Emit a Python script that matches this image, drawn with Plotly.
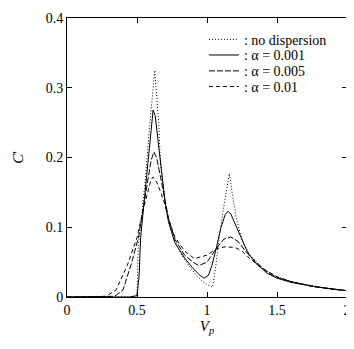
import plotly.graph_objects as go

# ---- data ----
vp_nodisp = [0, 0.3, 0.45, 0.50, 0.505, 0.51, 0.53, 0.56, 0.59, 0.61, 0.627, 0.64, 0.655, 0.667, 0.70, 0.725, 0.77,
             0.82, 0.87, 0.92, 0.97, 1.0, 1.04, 1.06, 1.09, 1.12, 1.16, 1.18, 1.21, 1.25, 1.30, 1.40, 1.50,
             1.60, 1.70, 1.80, 1.90, 2.0]
c_nodisp = [0, 0, 0, 0.002, 0.06, 0.075, 0.11, 0.17, 0.245, 0.295, 0.325, 0.29, 0.25, 0.195, 0.137, 0.108, 0.08,
            0.06, 0.045, 0.032, 0.022, 0.018, 0.014, 0.04, 0.09, 0.13, 0.177, 0.15, 0.112, 0.082, 0.062, 0.04, 0.029,
            0.022, 0.018, 0.014, 0.011, 0.009]

vp_a001 = [0, 0.3, 0.45, 0.50, 0.515, 0.526, 0.545, 0.561, 0.58, 0.60, 0.615, 0.63, 0.667, 0.70, 0.725, 0.77,
           0.84, 0.90, 0.95, 0.98, 1.01, 1.035, 1.065, 1.10, 1.13, 1.15, 1.17, 1.20, 1.25, 1.29, 1.35, 1.43,
           1.50, 1.60, 1.76, 1.90, 2.0]
c_a001 = [0, 0, 0, 0.002, 0.03, 0.085, 0.125, 0.161, 0.2, 0.245, 0.268, 0.26, 0.19, 0.137, 0.108, 0.078,
          0.056, 0.041, 0.031, 0.027, 0.031, 0.045, 0.069, 0.1, 0.118, 0.123, 0.119, 0.105, 0.08, 0.064, 0.048, 0.034,
          0.027, 0.021, 0.015, 0.011, 0.009]

vp_a005 = [0, 0.30, 0.34, 0.40, 0.46, 0.51, 0.56, 0.60, 0.62, 0.64, 0.67, 0.70, 0.725, 0.77, 0.84, 0.90,
           0.94, 1.0, 1.065, 1.12, 1.17, 1.22, 1.29, 1.35, 1.43, 1.50, 1.60, 1.76, 1.90, 2.0]
c_a005 = [0, 0, 0.001, 0.01, 0.048, 0.085, 0.15, 0.195, 0.208, 0.2, 0.17, 0.14, 0.113, 0.083, 0.06, 0.05,
          0.045, 0.05, 0.069, 0.083, 0.086, 0.08, 0.062, 0.05, 0.036, 0.028, 0.022, 0.015, 0.011, 0.009]

vp_a01 = [0, 0.25, 0.28, 0.35, 0.43, 0.50, 0.55, 0.60, 0.615, 0.64, 0.67, 0.70, 0.725, 0.77, 0.84, 0.91,
          1.0, 1.065, 1.13, 1.20, 1.25, 1.29, 1.35, 1.43, 1.50, 1.60, 1.76, 1.90, 2.0]
c_a01 = [0, 0, 0.001, 0.01, 0.045, 0.085, 0.13, 0.168, 0.172, 0.165, 0.15, 0.132, 0.112, 0.086, 0.066, 0.055,
         0.06, 0.069, 0.072, 0.071, 0.066, 0.058, 0.048, 0.037, 0.029, 0.022, 0.015, 0.011, 0.009]

x_ticks = [0, 0.5, 1, 1.5, 2]
x_tick_text = ["0", "0.5", "1", "1.5", "2"]
y_ticks = [0, 0.1, 0.2, 0.3, 0.4]
y_tick_text = ["0", "0.1", "0.2", "0.3", "0.4"]

series = [
    (vp_nodisp, c_nodisp, ": no dispersion", "1px,2px"),
    (vp_a001, c_a001, ": α = 0.001", "solid"),
    (vp_a005, c_a005, ": α = 0.005", "6px,2px"),
    (vp_a01, c_a01, ": α = 0.01", "4px,3px"),
]

font = "Liberation Serif, Times New Roman, serif"
legend_ids = ["legend", "legend2", "legend3", "legend4"]
legend_rows_y = [0.922, 0.866, 0.809, 0.753]

fig = go.Figure()
for (xs, ys, name, dash), lid in zip(series, legend_ids):
    fig.add_trace(go.Scatter(x=xs, y=ys, mode="lines", name=name, legend=lid,
                             line=dict(color="black", width=1, dash=dash)))

axis_common = dict(showgrid=False, zeroline=False, showline=True, linecolor="black", linewidth=1,
                   mirror="ticks", ticks="inside", ticklen=5, tickcolor="black",
                   ticklabeloverflow="allow",
                   tickfont=dict(family=font, size=14, color="black"))

legend_layout = {}
for lid, ly in zip(legend_ids, legend_rows_y):
    legend_layout[lid] = dict(x=0.489, y=ly, xanchor="left", yanchor="middle", bgcolor="rgba(0,0,0,0)",
                              font=dict(family=font, size=14, color="black"), itemwidth=30)

fig.update_layout(
    width=346, height=341,
    margin=dict(l=59, r=3, t=6, b=52),
    paper_bgcolor="white", plot_bgcolor="white",
    font=dict(family=font, color="black"),
    showlegend=True,
    xaxis=dict(range=[0, 2], tickvals=x_ticks, ticktext=x_tick_text,
               title=dict(text="<i>V<sub>p</sub></i>", font=dict(family=font, size=15), standoff=0),
               **axis_common),
    yaxis=dict(range=[0, 0.4], tickvals=y_ticks, ticktext=y_tick_text,
               title=dict(text="<i>C</i>'", font=dict(family=font, size=15), standoff=18),
               **axis_common),
    **legend_layout,
)

fig.write_html("out.html")
